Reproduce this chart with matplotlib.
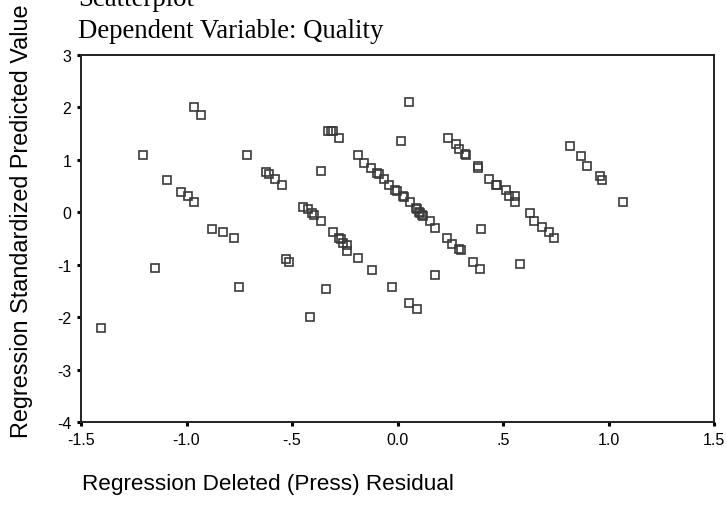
import matplotlib
matplotlib.use('Agg')
import matplotlib.pyplot as plt

# --- 1. Datos ---
residuo_press = [
    -1.405, -1.208, -1.148, -1.094, -1.025, -0.994, -0.963, -0.963, -0.931, -0.879,
    -0.827, -0.775, -0.750, -0.712, -0.622, -0.607, -0.580, -0.546, -0.530, -0.514,
    -0.447, -0.424, -0.416, -0.403, -0.398, -0.362, -0.362, -0.340, -0.328, -0.315,
    -0.304, -0.308, -0.279, -0.269, -0.279, -0.257, -0.241, -0.241, -0.188, -0.188,
    -0.157, -0.126, -0.120, -0.097, -0.087, -0.066, -0.039, -0.028, -0.012, -0.004,
    0.017, 0.025, 0.031, 0.056, 0.056, 0.061, 0.088, 0.094, 0.094, 0.102,
    0.107, 0.118, 0.122, 0.154, 0.178, 0.178, 0.236, 0.238, 0.260, 0.277,
    0.293, 0.293, 0.301, 0.320, 0.325, 0.359, 0.381, 0.381, 0.391, 0.398,
    0.435, 0.467, 0.473, 0.514, 0.530, 0.557, 0.557, 0.581, 0.628, 0.648,
    0.686, 0.718, 0.740, 0.818, 0.870, 0.900, 0.960, 0.971, 1.069,
]
valor_predicho = [
    -2.21, 1.08, -1.07, 0.61, 0.39, 0.31, 0.19, 2.01, 1.86, -0.33,
    -0.38, -0.49, -1.43, 1.08, 0.76, 0.73, 0.64, 0.52, -0.90, -0.95,
    0.09, 0.06, -2.00, -0.02, -0.05, -0.17, 0.78, -1.46, 1.54, 1.54,
    1.54, -0.38, -0.50, -0.51, 1.41, -0.59, -0.62, -0.74, -0.87, 1.08,
    0.93, 0.85, -1.10, 0.74, 0.72, 0.63, 0.52, -1.43, 0.42, 0.40,
    1.35, 0.31, 0.28, 2.10, -1.73, 0.19, 0.07, 0.05, -1.85, 0.00,
    -0.02, -0.05, -0.07, -0.17, -0.30, -1.20, -0.50, 1.41, -0.61, 1.29,
    1.20, -0.71, -0.72, 1.11, 1.09, -0.95, 0.88, 0.85, -1.08, -0.33,
    0.63, 0.52, 0.52, 0.42, 0.31, 0.31, 0.19, -0.99, -0.02, -0.17,
    -0.29, -0.37, -0.49, 1.26, 1.06, 0.88, 0.68, 0.61, 0.19,
]

ticks_x = [-1.5, -1.0, -0.5, 0.0, 0.5, 1.0, 1.5]
etiquetas_x = ['-1.5', '-1.0', '-.5', '0.0', '.5', '1.0', '1.5']
ticks_y = [3, 2, 1, 0, -1, -2, -3, -4]
etiquetas_y = ['3', '2', '1', '0', '-1', '-2', '-3', '-4']

# --- 2. Figura ---
fig = plt.figure(figsize=(7.27, 5.06), dpi=100)
ax = fig.add_axes([81 / 727, 1 - 423 / 506, 633 / 727, 367.3 / 506])

ax.plot(residuo_press, valor_predicho, linestyle='none', marker='s',
        markersize=5.6, markerfacecolor='none', markeredgecolor='#3a3a3a',
        markeredgewidth=1.2, clip_on=False)

ax.set_xlim(-1.5, 1.5)
ax.set_ylim(-4, 3)
ax.set_xticks(ticks_x)
ax.set_xticklabels(etiquetas_x)
ax.set_yticks(ticks_y)
ax.set_yticklabels(etiquetas_y)

for lado in ['left', 'bottom', 'top', 'right']:
    ax.spines[lado].set_linewidth(1.4)
    ax.spines[lado].set_color('#222222')

ax.tick_params(axis='both', direction='out', length=3, width=2.2, color='black',
               labelsize=11.5, pad=4)
for etiqueta in ax.get_xticklabels() + ax.get_yticklabels():
    etiqueta.set_family('Liberation Sans')

# --- 3. Textos ---
fig.text(78 / 727, 1 - 6 / 506, 'Scatterplot', family='Liberation Serif',
         fontsize=19.3, ha='left', va='baseline')
fig.text(78 / 727, 1 - 38.3 / 506, 'Dependent Variable: Quality',
         family='Liberation Serif', fontsize=19.3, ha='left', va='baseline')
fig.text(21.7 / 727, 1 - 221 / 506, 'Regression Standardized Predicted Value',
         family='Liberation Sans', fontsize=16.8, rotation=90,
         ha='center', va='center')
fig.text(82 / 727, 1 - 485 / 506, 'Regression Deleted (Press) Residual',
         family='Liberation Sans', fontsize=16.2, ha='left', va='center')

fig.savefig('out.png', dpi=100)
